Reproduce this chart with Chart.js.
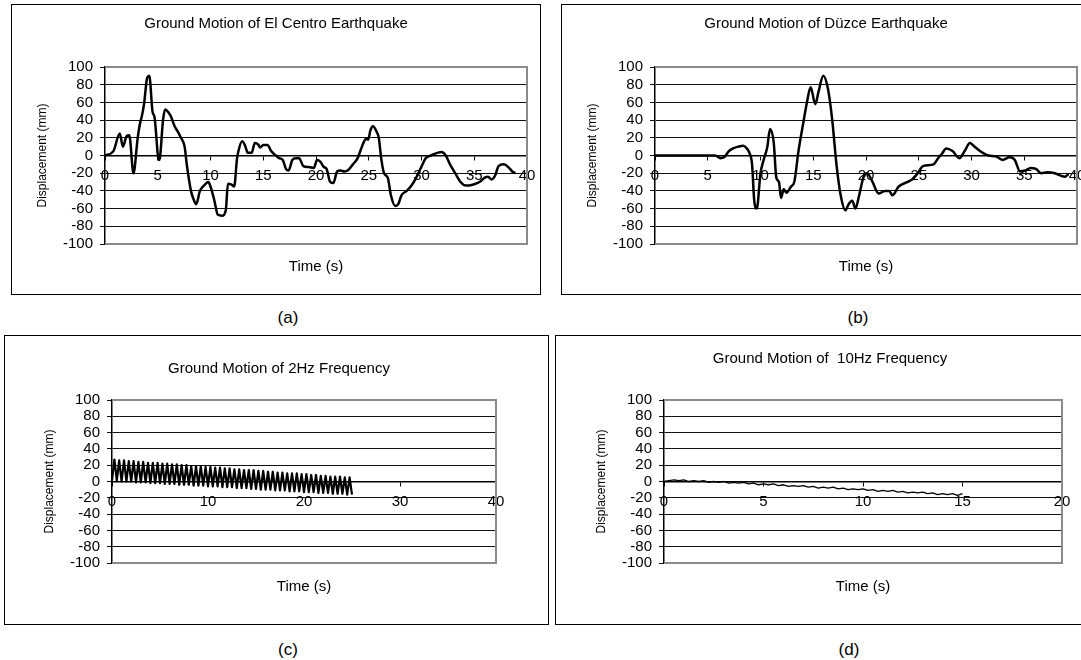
<!DOCTYPE html>
<html>
<head>
<meta charset="utf-8">
<script src="https://cdn.jsdelivr.net/npm/chart.js@4.4.1/dist/chart.umd.min.js"></script>
<style>
html,body{margin:0;padding:0;background:#fff;}
body{width:1081px;height:660px;position:relative;overflow:hidden;font-family:"Liberation Sans",Arial,sans-serif;color:#000;}
.box{position:absolute;border:1px solid #000;box-sizing:border-box;pointer-events:none;}
.lbl{position:absolute;transform:translate(-50%,-50%);white-space:pre;}
.ttl{font-size:15px;}
.cap{font-size:17px;}
canvas{position:absolute;}
</style>
</head>
<body>
<canvas id="chA"></canvas><canvas id="chB"></canvas><canvas id="chC"></canvas><canvas id="chD"></canvas>
<div class="box" style="left:11px;top:4px;width:530px;height:291px"></div>
<div class="box" style="left:561px;top:4px;width:534px;height:291px"></div>
<div class="box" style="left:4px;top:335px;width:545px;height:290px"></div>
<div class="box" style="left:555px;top:335px;width:545px;height:290px"></div>
<div class="lbl ttl" style="left:276px;top:22px">Ground Motion of El Centro Earthquake</div>
<div class="lbl ttl" style="left:826px;top:22px">Ground Motion of Düzce Earthquake</div>
<div class="lbl ttl" style="left:279px;top:367px">Ground Motion of 2Hz Frequency</div>
<div class="lbl ttl" style="left:830px;top:357px">Ground Motion of  10Hz Frequency</div>
<div class="lbl cap" style="left:288px;top:318px">(a)</div>
<div class="lbl cap" style="left:858px;top:318px">(b)</div>
<div class="lbl cap" style="left:288px;top:650px">(c)</div>
<div class="lbl cap" style="left:849px;top:650px">(d)</div>
<script>
// ---- data ----
// (a) El Centro: time (s) and displacement (mm)
const elT = [0,0.8,1.4,1.7,2.05,2.3,2.7,3.1,3.35,3.45,3.7,4.0,4.2,4.5,4.7,5.1,5.2,5.5,5.7,6.05,
  6.25,6.6,6.9,7.2,7.55,7.75,8.15,8.35,8.65,9.0,9.3,9.8,10.0,10.35,10.7,11.1,11.45,11.65,12.0,12.25,
  12.5,12.65,13.0,13.25,13.55,13.9,14.2,14.55,14.7,15.0,15.4,15.75,16.2,16.5,16.85,17.15,17.4,17.75,18.1,18.4,
  18.8,19.3,19.8,20.1,20.4,20.75,21.0,21.35,21.65,22.0,22.3,22.7,23.0,23.5,23.95,24.35,24.75,24.95,25.15,25.4,
  25.7,25.95,26.2,26.45,26.8,27.1,27.5,27.8,28.1,28.6,29.1,29.5,29.9,30.4,30.9,31.9,32.3,32.7,33.2,33.7,
  34.2,34.85,35.5,36.0,36.3,36.65,37.0,37.3,37.8,38.3,38.6,38.9];
const elY = [0,5,25,10,22,23,-20,20,38,42,58,88,90,50,43,-5,-3,40,52,48,
  44,33,27,20,10,-10,-40,-48,-55,-40,-35,-30,-35,-50,-67,-68,-62,-32,-33,-35,
  -5,5,16,12,3,3,14,12,9,12,12,5,0,-3,-5,-15,-17,-5,-3,-3,
  -12,-13,-14,-5,-7,-13,-15,-30,-31,-18,-17,-18,-17,-10,-3,10,19,18,28,33,
  28,20,-5,-20,-25,-45,-57,-55,-45,-40,-33,-25,-15,-3,0,4,0,-10,-20,-30,
  -34,-33,-30,-25,-24,-27,-22,-12,-10,-14,-18,-20];

// (b) Düzce
const dzT = [0,5.7,6.2,6.55,7.0,7.4,7.9,8.35,8.7,8.95,9.2,9.4,9.65,10.0,10.3,10.65,10.9,11.25,11.5,11.75,
  11.95,12.2,12.45,12.9,13.2,13.6,14.1,14.4,14.75,15.2,15.5,15.95,16.4,16.8,17.2,17.6,18.05,18.35,18.7,19.0,
  19.35,19.75,20.1,20.55,21.2,21.8,22.2,22.5,23.1,23.9,24.4,24.9,25.4,26.4,26.9,27.2,27.6,28.2,28.85,29.35,
  29.85,30.3,30.8,31.6,32.3,32.95,33.6,34.1,34.6,35.1,35.6,36.1,36.6,37.2,37.9,38.5,38.85,39.2];
const dzY = [0,0,-3,-2,5,8,10,11,8,3,-10,-50,-60,-20,-5,10,30,15,-25,-30,
  -48,-38,-42,-35,-30,5,40,60,77,58,72,90,75,40,-10,-45,-62,-55,-51,-60,
  -45,-25,-20,-28,-43,-40,-40,-45,-35,-30,-27,-20,-12,-10,-2,2,8,5,-3,5,
  14,10,5,0,-1,-5,-2,-5,-18,-17,-14,-15,-20,-19,-20,-23,-24,-21];

// (c) 2Hz: troughs at every 0.5 s, peaks in between (sample step 0.25 s)
const dt2 = 0.25;
const hzTroughs = [1,1,0,0,0,-1,-1,-1,-2,-2,-2,-3,-3,-3,-4,-4,-4,-5,-5,-5,
  -6,-6,-6,-7,-7,-7,-8,-8,-8,-9,-9,-10,-10,-10,-11,-11,-11,-12,-12,-12,
  -13,-13,-13,-14,-14,-14,-15,-15,-15,-16,-16];
const hzPeaks = [27,26,26,25,25,24,24,23,23,23,22,22,21,21,20,20,19,19,19,18,
  18,17,17,16,16,15,15,14,14,14,13,13,12,12,11,11,10,10,10,9,
  9,8,8,7,7,6,6,6,5,5];

// (d) 10Hz, sample step 0.25 s
const dt10 = 0.25;
const tenY = [0,1,2,1,2,0,1,0,1,-1,0,-1,0,-2,-1,-2,-1,-3,-2,-4,
  -3,-4,-3,-5,-4,-6,-5,-6,-5,-7,-6,-8,-7,-8,-7,-9,-8,-10,-9,-10,
  -9,-11,-10,-12,-11,-12,-11,-13,-12,-14,-13,-14,-13,-15,-14,-16,-15,-16,-15,-17,-15];

const yTicks = {min:-100, max:100, step:20};

// ---- helpers ----
Chart.defaults.font.family = '"Liberation Sans", Arial, sans-serif';
Chart.defaults.color = '#000';

const plotFrame = {id:'plotFrame', beforeDatasetsDraw(c){
  const {ctx, chartArea:a} = c;
  ctx.save(); ctx.strokeStyle='#8a8a8a'; ctx.lineWidth=2;
  ctx.beginPath(); ctx.moveTo(a.left,a.top); ctx.lineTo(a.right,a.top); ctx.lineTo(a.right,a.bottom); ctx.lineTo(a.left,a.bottom);
  ctx.stroke(); ctx.restore();
}};

function pts(t, v){ return t.map((x,i)=>({x, y:v[i]})); }

function groundChart(id, g, data, xMax, xStep, lw, smooth){
  const el = document.getElementById(id);
  const [L,T,R,B] = g.box;
  const W = R-L, H = B-T;
  el.width = W; el.height = H;
  el.style.cssText = `left:${L}px;top:${T}px;width:${W}px;height:${H}px`;
  const pl = g.plot[0]-L, pt = g.plot[1]-T, pr = g.plot[2]-L, pb = g.plot[3]-T;
  const subBottom = H - (g.timeY - T) - 9;
  const subTop = (H - pb) - 18 - subBottom;
  const yPad = (g.yTitleX - L) - 7.2;
  new Chart(el, {
    type:'line',
    data:{datasets:[{data, borderColor:'#000', borderWidth:lw, pointRadius:0, borderJoinStyle:'round',
      cubicInterpolationMode: smooth ? 'monotone' : 'default', tension:0}]},
    options:{
      responsive:false, animation:false, events:[],
      layout:{padding:{left:0, right:W-pr, top:pt, bottom:0}},
      plugins:{legend:{display:false}, tooltip:{enabled:false},
        subtitle:{display:true, text:'Time (s)', position:'bottom', fullSize:false, color:'#000',
          font:{size:15}, padding:{top:subTop, bottom:subBottom}}},
      scales:{
        x:{type:'linear', min:0, max:xMax, position:{y:0},
          ticks:{stepSize:xStep, color:'#000', font:{size:15}, padding:7.5, maxRotation:0, autoSkip:false},
          grid:{drawOnChartArea:false, color:'#000', tickLength:4},
          border:{color:'#000', width:1.5},
          afterFit:s=>{ s.height=0; s.paddingLeft=0; s.paddingRight=0; }},
        y:{min:yTicks.min, max:yTicks.max,
          ticks:{stepSize:yTicks.step, color:'#000', font:{size:15}, padding:7, autoSkip:false},
          grid:{color:'#111', lineWidth:1, tickLength:5},
          border:{color:'#000', width:1.5},
          title:{display:true, text:'Displacement (mm)', color:'#000', font:{size:12}, padding:{top:yPad, bottom:0}},
          afterFit:s=>{ s.width=pl; s.paddingTop=0; s.paddingBottom=0; }}
      }
    },
    plugins:[plotFrame]
  });
}

// ---- build ----
const hzVals = [];
for (let i=0;i<hzTroughs.length;i++){ hzVals.push(hzTroughs[i]); if (i<hzPeaks.length) hzVals.push(hzPeaks[i]); }
const hzPts = hzVals.map((v,i)=>({x:i*dt2, y:v}));
const tenPts = tenY.map((v,i)=>({x:i*dt10, y:v}));

groundChart('chA', {box:[11,4,541,295], plot:[105,67,527,244], timeY:267, yTitleX:43}, pts(elT,elY), 40, 5, 2.5, true);
groundChart('chB', {box:[561,4,1095,295], plot:[655,67,1077,244], timeY:267, yTitleX:593}, pts(dzT,dzY), 40, 5, 2.5, true);
groundChart('chC', {box:[4,335,549,625], plot:[112,400,496,563], timeY:587, yTitleX:50}, hzPts, 40, 10, 2.2, false);
groundChart('chD', {box:[555,335,1100,625], plot:[664,400,1062,563], timeY:587, yTitleX:602}, tenPts, 20, 5, 1.3, false);
</script>
</body>
</html>
